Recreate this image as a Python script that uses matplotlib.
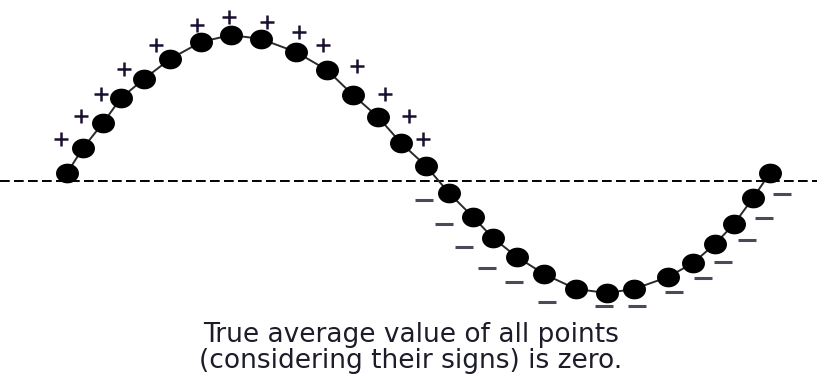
import numpy as np
import matplotlib
matplotlib.use('Agg')
import matplotlib.pyplot as plt
from matplotlib.path import Path

# sample positions and values (zero line = 0)
x = [67, 83, 103, 121, 144, 170, 201, 231, 261, 296, 327, 353, 378, 401, 426,
     449, 473, 493, 517, 544, 576, 607, 634, 668, 693, 715, 734, 753, 770]
y = [8, 33, 58, 83, 102, 122, 139, 146, 142, 129, 111, 86, 64, 38, 15,
     -12, -36, -57, -76, -93, -108, -112, -108, -96, -82, -63, -43, -17, 8]

# sign labels
plus_x = [61, 81, 101, 124, 156, 197, 229, 267, 299, 323, 357, 385, 409, 423]
plus_y = [42, 65, 87, 112, 136, 156, 164, 159, 149, 136, 115, 87, 65, 42]
minus_x = [424, 444, 464, 487, 514, 547, 604, 637, 674, 703, 723, 747, 764, 782]
minus_y = [-19, -43, -66, -87, -101, -121, -125, -125, -111, -97, -81, -59, -37, -13]

caption = ["True average value of all points",
           "(considering their signs) is zero."]
caption_y = [-161, -187]

# slightly flattened dot marker
t = np.linspace(0, 2 * np.pi, 60)
ellipse = Path(np.column_stack([np.cos(t), 0.85 * np.sin(t)]), closed=True)

fig = plt.figure(figsize=(8.17, 3.77), dpi=100)
ax = fig.add_axes([0, 0, 1, 1])
ax.set_xlim(0, 817)
ax.set_ylim(-196, 181)
ax.axis('off')

ax.axhline(0, color='black', lw=1.4, dashes=(5, 2.2), zorder=1)
ax.plot(x, y, color='#2a2a2a', lw=1.4, zorder=2)
ax.plot(x, y, ls='none', marker=ellipse, ms=15.5, color='black', zorder=3)

ax.plot(plus_x, plus_y, ls='none', marker='+', ms=10, mew=1.8, color='#1a1030')
ax.plot(minus_x, minus_y, ls='none', marker='_', ms=13, mew=2.2, color='#4a4a5a')

for line, ly in zip(caption, caption_y):
    ax.text(411, ly, line, ha='center', va='baseline', fontsize=19,
            family='DejaVu Sans', color='#1c1c2a')

plt.savefig('out.png', dpi=100)
